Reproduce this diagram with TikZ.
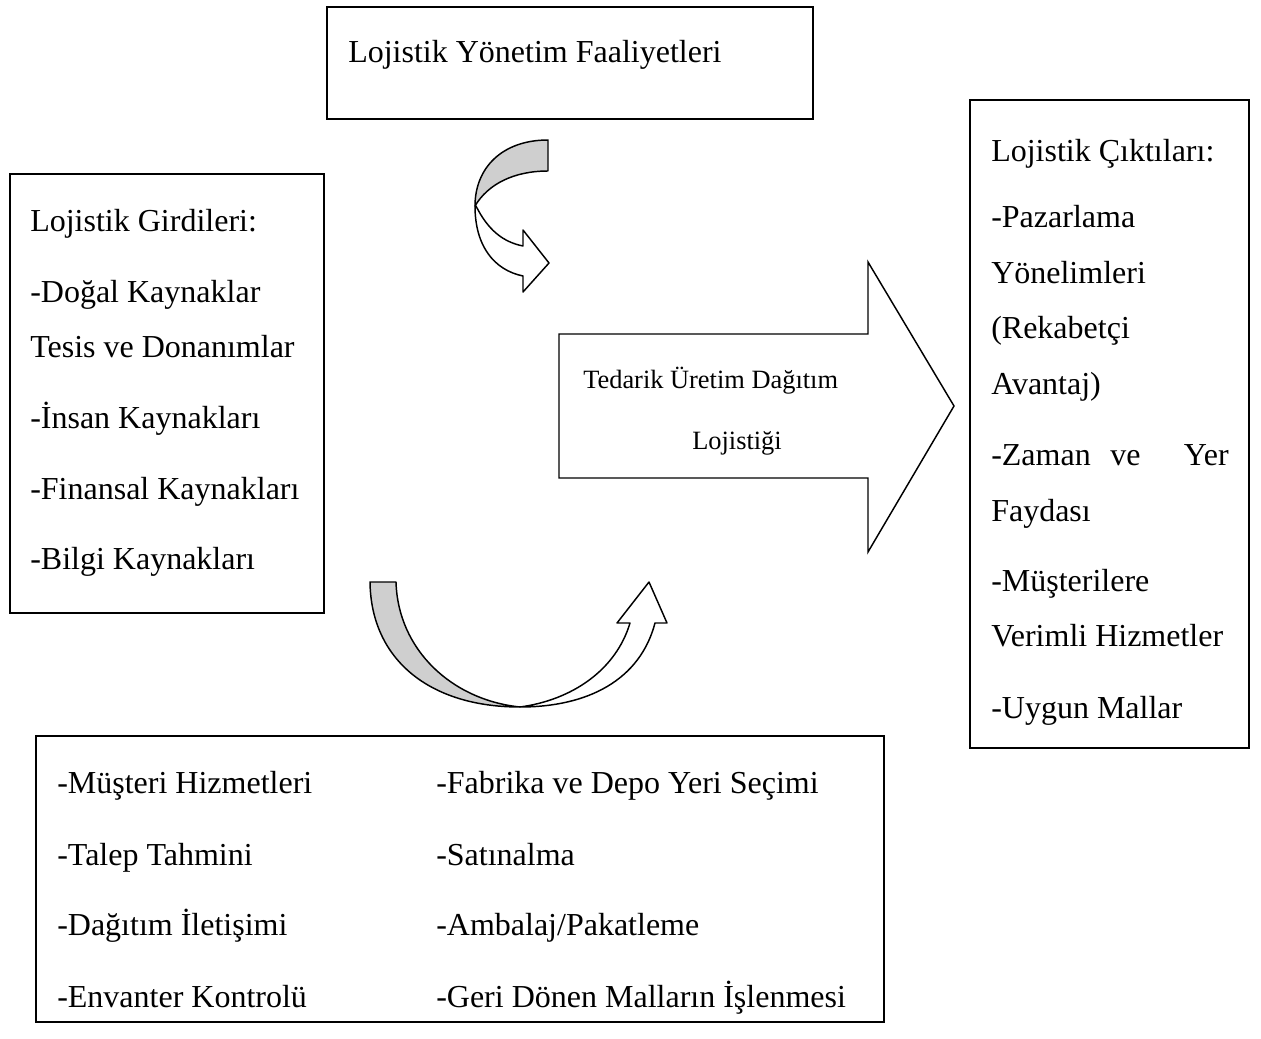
\documentclass[tikz,border=0pt]{standalone}
\usepackage{fontspec}
\setmainfont{Liberation Serif}
\begin{document}
\begin{tikzpicture}[x=0.75pt,y=-0.75pt,
  frame/.style={draw=black,line width=1.1pt,fill=white},
  txt/.style={anchor=base west,inner sep=0pt,font=\fontsize{24}{28}\selectfont},
  atxt/.style={anchor=base west,inner sep=0pt,font=\fontsize{19.8}{24}\selectfont},
  band/.style={draw=black,line width=1.1pt,line join=round},
  backband/.style={band,fill=black!19},
  frontband/.style={band,fill=white}]
\useasboundingbox (0,0) rectangle (1261,1039);
\fill[white] (0,0) rectangle (1261,1039);

% boxes
\draw[frame] (327,7) rectangle (813,119);
\draw[frame] (10,174) rectangle (324,613);
\draw[frame] (970,100) rectangle (1249,748);
\draw[frame] (36,736) rectangle (884,1022);

% top box text
\node[txt] (yon) at (348,62) {Lojistik Yönetim Faaliyetleri};

% left box
\node[txt] (g0) at (30,231) {Lojistik Girdileri:};
\node[txt] (g1) at (30,302) {-Doğal Kaynaklar};
\node[txt] (g2) at (30,357) {Tesis ve Donanımlar};
\node[txt] (g3) at (30,428) {-İnsan Kaynakları};
\node[txt] (g4) at (30,499) {-Finansal Kaynakları};
\node[txt] (g5) at (30,569) {-Bilgi Kaynakları};

% right box
\node[txt] (c0) at (991,161) {Lojistik Çıktıları:};
\node[txt] (c1) at (991,227) {-Pazarlama};
\node[txt] (c2) at (991,283) {Yönelimleri};
\node[txt] (c3) at (991,338) {(Rekabetçi};
\node[txt] (c4) at (991,394) {Avantaj)};
\node[txt] (c5a) at (991,465) {-Zaman};
\node[txt] (c5b) at (1110,465) {ve};
\node[txt,anchor=base east] (c5c) at (1229,465) {Yer};
\node[txt] (c6) at (991,521) {Faydası};
\node[txt] (c7) at (991,591) {-Müşterilere};
\node[txt] (c8) at (991,646) {Verimli Hizmetler};
\node[txt] (c9) at (991,718) {-Uygun Mallar};

% bottom box
\node[txt] (b1) at (57,793) {-Müşteri Hizmetleri};
\node[txt] (b2) at (57,865) {-Talep Tahmini};
\node[txt] (b3) at (57,935) {-Dağıtım İletişimi};
\node[txt] (b4) at (57,1007) {-Envanter Kontrolü};
\node[txt] (b5) at (436,793) {-Fabrika ve Depo Yeri Seçimi};
\node[txt] (b6) at (436,865) {-Satınalma};
\node[txt] (b7) at (436,935) {-Ambalaj/Pakatleme};
\node[txt] (b8) at (436,1007) {-Geri Dönen Malların İşlenmesi};

% big block arrow
\draw[frame,line join=miter] (559,334) -- (868,334) -- (868,262) -- (954,406)
  -- (868,552) -- (868,478) -- (559,478) -- cycle;
\node[atxt] (t1) at (583,388) {Tedarik Üretim Dağıtım};
\node[atxt] (t2) at (692,449) {Lojistiği};

% top curved arrow (down-right)
\draw[frontband] (476,206) .. controls (488,230) and (503,242) .. (523,246)
  -- (523,230) -- (549,263) -- (523,292) -- (523,276)
  .. controls (494,270) and (475,246) .. (475,206) -- cycle;
\draw[backband] (548,140) .. controls (502,140) and (475,168) .. (475,206)
  .. controls (488,184) and (514,171) .. (548,171) -- cycle;

% bottom curved arrow (up-right)
\draw[backband] (370,582) -- (396,582)
  .. controls (398,650) and (452,700) .. (520,707)
  .. controls (430,707) and (371,660) .. (370,582) -- cycle;
\draw[frontband] (520,707) .. controls (572,700) and (616,670) .. (630,623)
  -- (617,623) -- (649,582) -- (667,623) -- (655,623)
  .. controls (640,680) and (588,707) .. (520,707) -- cycle;
\end{tikzpicture}
\end{document}
